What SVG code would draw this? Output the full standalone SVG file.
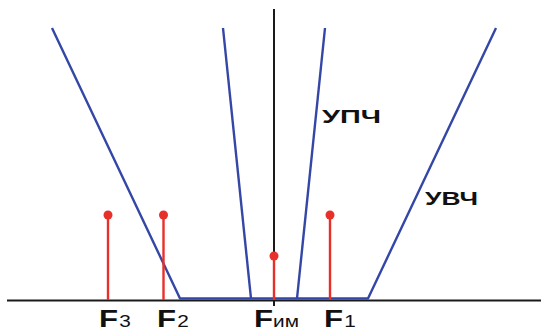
<svg xmlns="http://www.w3.org/2000/svg" width="541" height="333" viewBox="0 0 541 333">
<style>
.ax{stroke:#1a1a1a;stroke-width:2;fill:none}
.bl{stroke:#3447a6;stroke-width:2.4;fill:none;stroke-linejoin:round}
.rd{stroke:#e8302a;stroke-width:2.4}
.dot{fill:#e8302a}
.lb{font-family:"Liberation Sans",Arial,sans-serif;font-weight:bold;fill:#111}
.F{font-size:24px}
.sub{font-size:16px;font-weight:normal}
.cy{font-size:19px}
</style>
<rect width="541" height="333" fill="#fff"/>
<g id="axes">
<line class="ax" x1="7" y1="300.5" x2="541" y2="300.5"/>
<line class="ax" x1="274" y1="9" x2="274" y2="306"/>
</g>
<g id="connectors">
<polyline class="bl" points="52,28 180,298.5 368,298.5 496,28"/>
<polyline class="bl" points="223,28 251,298.5"/>
<polyline class="bl" points="325,28 297,298.5"/>
</g>
<g id="F3"><line class="rd" x1="108" y1="215" x2="108" y2="300"/><circle class="dot" cx="108" cy="215" r="4.5"/>
<text class="lb" transform="translate(99,326.5) scale(1.3,1)"><tspan class="F">F</tspan><tspan class="sub" dx="1">3</tspan></text></g>
<g id="F2"><line class="rd" x1="163.5" y1="215" x2="163.5" y2="300"/><circle class="dot" cx="163.5" cy="215" r="4.5"/>
<text class="lb" transform="translate(157,326.5) scale(1.3,1)"><tspan class="F">F</tspan><tspan class="sub" dx="1">2</tspan></text></g>
<g id="FIM"><line class="rd" x1="274" y1="256" x2="274" y2="300"/><circle class="dot" cx="274" cy="256" r="4.5"/>
<text class="lb" transform="translate(254,326.5) scale(1.3,1)"><tspan class="F">F</tspan><tspan class="sub" dx="0" font-size="15">им</tspan></text></g>
<g id="F1"><line class="rd" x1="330" y1="215" x2="330" y2="300"/><circle class="dot" cx="330" cy="215" r="4.5"/>
<text class="lb" transform="translate(324,326.5) scale(1.3,1)"><tspan class="F">F</tspan><tspan class="sub" dx="1">1</tspan></text></g>
<g id="UPCH"><text class="lb cy" x="322" y="123" textLength="59" lengthAdjust="spacingAndGlyphs">УПЧ</text></g>
<g id="UVCH"><text class="lb cy" x="425" y="205" font-size="20" textLength="53" lengthAdjust="spacingAndGlyphs">УВЧ</text></g>
</svg>
